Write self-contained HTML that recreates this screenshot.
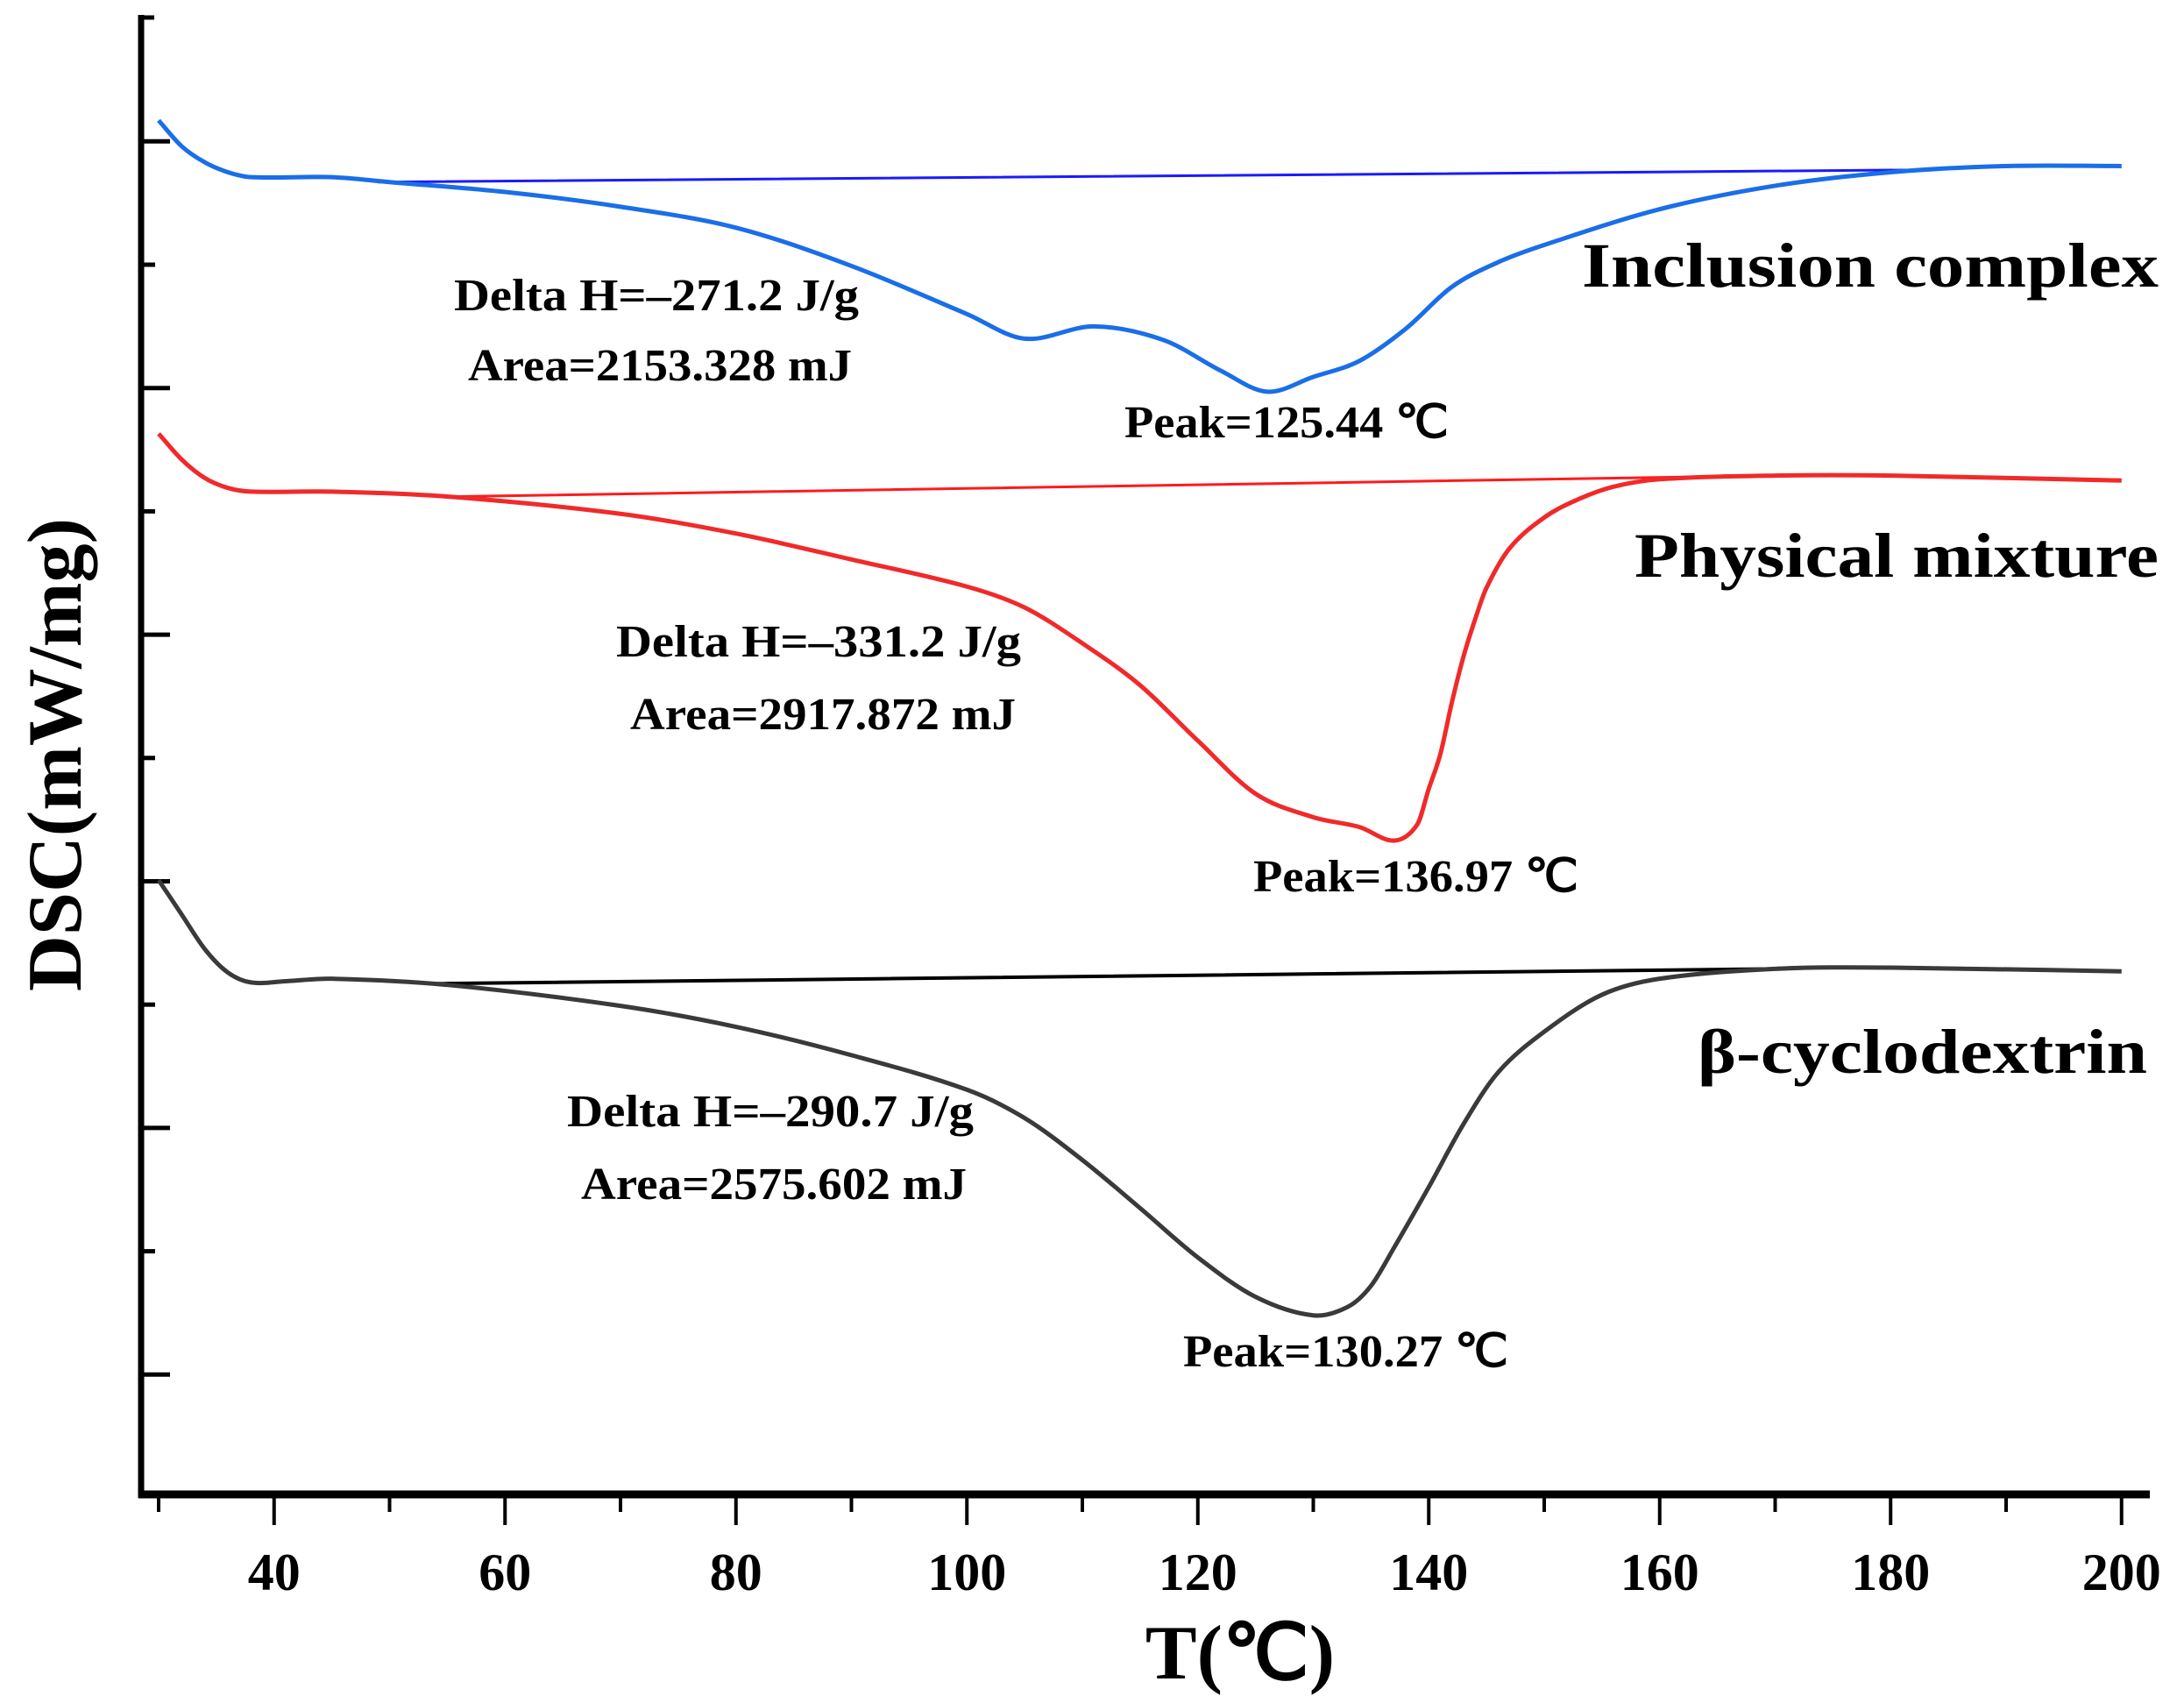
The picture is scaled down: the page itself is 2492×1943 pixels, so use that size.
<!DOCTYPE html>
<html><head><meta charset="utf-8"><style>
html,body{margin:0;padding:0;background:#fff;}
svg{display:block;}
text{font-family:"Liberation Serif",serif;font-weight:bold;fill:#000;}
</style></head><body>
<svg id="chart" width="2492" height="1943" viewBox="0 0 2492 1943" xmlns="http://www.w3.org/2000/svg">
<g id="axes"></g>
<g id="series"></g>
<g id="labels">
<text transform="translate(92,861) rotate(-90)" text-anchor="middle" font-size="88" textLength="540" lengthAdjust="spacingAndGlyphs">DSC(mW/mg)</text>
<text x="1415" y="1915" text-anchor="middle" font-size="88">T(℃)</text>
<text x="1805" y="327" font-size="72" textLength="658" lengthAdjust="spacingAndGlyphs">Inclusion complex</text>
<text x="1865" y="658" font-size="72" textLength="598" lengthAdjust="spacingAndGlyphs">Physical mixture</text>
<text x="1937" y="1224" font-size="72" textLength="513" lengthAdjust="spacingAndGlyphs">β-cyclodextrin</text>
<text x="518" y="354" font-size="52" textLength="462" lengthAdjust="spacingAndGlyphs">Delta H=–271.2 J/g</text>
<text x="534" y="434" font-size="52" textLength="438" lengthAdjust="spacingAndGlyphs">Area=2153.328 mJ</text>
<text x="1283" y="499" font-size="52" textLength="370" lengthAdjust="spacingAndGlyphs">Peak=125.44 ℃</text>
<text x="703" y="749" font-size="52" textLength="462" lengthAdjust="spacingAndGlyphs">Delta H=–331.2 J/g</text>
<text x="719" y="832" font-size="52" textLength="440" lengthAdjust="spacingAndGlyphs">Area=2917.872 mJ</text>
<text x="1430" y="1017" font-size="52" textLength="371" lengthAdjust="spacingAndGlyphs">Peak=136.97 ℃</text>
<text x="647" y="1285" font-size="52" textLength="464" lengthAdjust="spacingAndGlyphs">Delta H=–290.7 J/g</text>
<text x="663" y="1368" font-size="52" textLength="440" lengthAdjust="spacingAndGlyphs">Area=2575.602 mJ</text>
<text x="1350" y="1559" font-size="52" textLength="371" lengthAdjust="spacingAndGlyphs">Peak=130.27 ℃</text>
</g>
</svg>
<script>
const NS="http://www.w3.org/2000/svg";
const xTicks=[30,40,50,60,70,80,90,100,110,120,130,140,150,160,170,180,190,200];
const xTickLabels=[40,60,80,100,120,140,160,180,200];
const yTicks=[1,2,3,4,5,6,7,8,9,10,11];
const icT=[30,32,34,36,38,45,50,60,70,80,90,100,105,111,117,122,126,130,134,138,142,146,150,160,170,180,190,200];
const icV=[11.17,10.96,10.83,10.75,10.71,10.71,10.67,10.59,10.47,10.30,9.99,9.60,9.40,9.50,9.39,9.14,8.97,9.09,9.22,9.48,9.82,10.02,10.16,10.45,10.64,10.75,10.80,10.80];
const icBaseT=[49,184];
const icBaseV=[10.67,10.77];
const pmT=[30,32,34,36,38,45,55,70,80,90,100,105,110,115,120,125,130,134,137,139,140,141,142,143,144,145,147,150,153,156,160,170,180,200];
const pmV=[8.63,8.42,8.27,8.19,8.16,8.16,8.12,7.98,7.82,7.61,7.39,7.22,6.93,6.59,6.14,5.71,5.52,5.44,5.33,5.46,5.75,6.03,6.45,6.82,7.12,7.38,7.70,7.95,8.10,8.20,8.26,8.29,8.29,8.25];
const pmBaseT=[56,170];
const pmBaseV=[8.12,8.29];
const bcdT=[30,32,34,36,38,41,45,55,70,80,90,100,105,110,115,120,125,130,133,135,137,140,143,146,150,155,160,170,180,200];
const bcdV=[5.01,4.73,4.45,4.26,4.18,4.19,4.21,4.16,3.99,3.82,3.59,3.31,3.08,2.74,2.35,1.95,1.63,1.48,1.55,1.72,2.03,2.52,3.03,3.45,3.78,4.08,4.21,4.29,4.30,4.27];
const bcdBaseT=[54,170];
const bcdBaseV=[4.17,4.29];

const X=t=>181+(t-30)*13.175;
const Y=v=>1709-v*140.7;
const axes=document.getElementById('axes');
const ser=document.getElementById('series');
function line(x1,y1,x2,y2,w){const l=document.createElementNS(NS,'line');l.setAttribute('x1',x1);l.setAttribute('y1',y1);l.setAttribute('x2',x2);l.setAttribute('y2',y2);l.setAttribute('stroke','#000');l.setAttribute('stroke-width',w);return l;}
let yl=line(161,17,161,1709,7);


axes.appendChild(yl);
let tc=line(158,20,176,20,5);


axes.appendChild(tc);
let xl=line(158,1705,2453,1705,9);


axes.appendChild(xl);
xTicks.forEach(t=>{const major=t%20===0;const l=line(X(t),1705,X(t),1705+(major?35:20),4);


axes.appendChild(l);});
yTicks.forEach(v=>{const major=(11-v)%2===0;const l=line(161,Y(v),161+(major?33:16),Y(v),5);


axes.appendChild(l);});
xTickLabels.forEach(t=>{const tx=document.createElementNS(NS,'text');tx.setAttribute('x',X(t));tx.setAttribute('y',1814);tx.setAttribute('text-anchor','middle');tx.setAttribute('font-size','60');tx.textContent=t;


axes.appendChild(tx);});
function smooth(ts,vs){const p=ts.map((t,i)=>[X(t),Y(vs[i])]);let d='M'+p[0][0]+','+p[0][1];
for(let i=0;i<p.length-1;i++){const p0=p[i-1]||p[i],p1=p[i],p2=p[i+1],p3=p[i+2]||p2;
const dx=p2[0]-p1[0];
const s1=dx/((p2[0]-p0[0])||1), s2=dx/((p3[0]-p1[0])||1);
d+=' C'+(p1[0]+(p2[0]-p0[0])*s1/3)+','+(p1[1]+(p2[1]-p0[1])*s1/3)+' '+(p2[0]-(p3[0]-p1[0])*s2/3)+','+(p2[1]-(p3[1]-p1[1])*s2/3)+' '+p2[0]+','+p2[1];}return d;}
function path(d,c,w,name){const e=document.createElementNS(NS,'path');e.setAttribute('d',d);e.setAttribute('fill','none');e.setAttribute('stroke',c);e.setAttribute('stroke-width',w);e.setAttribute('stroke-linejoin','round');


ser.appendChild(e);}
path(smooth(icBaseT,icBaseV),'#1a1aff',3,'ic-baseline');
path(smooth(icT,icV),'#1a6ee8',5,'ic-curve');
path(smooth(pmBaseT,pmBaseV),'#ff1a1a',3,'pm-baseline');
path(smooth(pmT,pmV),'#f02a2a',5,'pm-curve');
path(smooth(bcdBaseT,bcdBaseV),'#000',4,'bcd-baseline');
path(smooth(bcdT,bcdV),'#3a3a3a',5,'bcd-curve');
</script>
</body></html>
